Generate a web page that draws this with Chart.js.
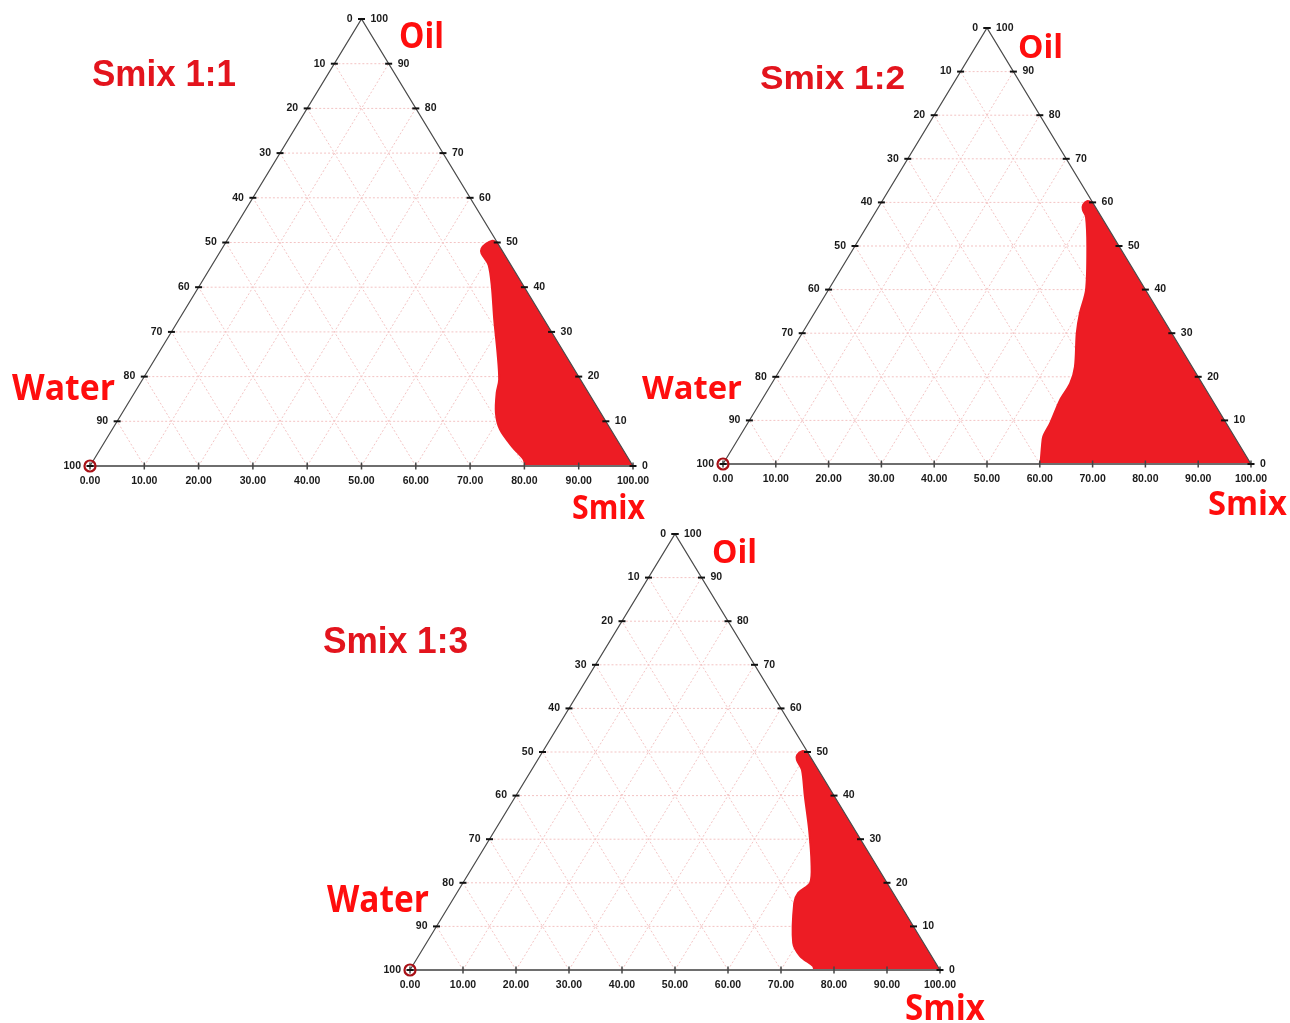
<!DOCTYPE html>
<html lang="en">
  <head>
    <meta charset="UTF-8" />
    <title>Pseudo-ternary phase diagrams</title>
    <style>
      html,
      body {
        margin: 0;
        padding: 0;
        background: #ffffff;
      }
      .stage {
        position: relative;
        width: 1290px;
        height: 1023px;
        overflow: hidden;
      }
      .stage canvas {
        position: absolute;
        left: 0;
        top: 0;
      }
    </style>
  </head>
  <body>
    <div class="stage">
      <canvas id="smix11" width="1290" height="1023"></canvas>
      <canvas id="smix12" width="1290" height="1023"></canvas>
      <canvas id="smix13" width="1290" height="1023"></canvas>
    </div>

    <script src="https://cdn.jsdelivr.net/npm/chart.js"></script>
    <script>
      // axis values (percent)
      const gridSteps = [10, 20, 30, 40, 50, 60, 70, 80, 90];
      const tickValues = [0, 10, 20, 30, 40, 50, 60, 70, 80, 90, 100];
      const smixTickLabels = ["0.00", "10.00", "20.00", "30.00", "40.00", "50.00",
        "60.00", "70.00", "80.00", "90.00", "100.00"];
      const waterTickLabels = ["0", "10", "20", "30", "40", "50", "60", "70", "80", "90", "100"]; // left side, apex -> base
      const oilTickLabels = ["100", "90", "80", "70", "60", "50", "40", "30", "20", "10", "0"]; // right side, apex -> base

      const panelTitles = ["Smix 1:1", "Smix 1:2", "Smix 1:3"];
      const componentNames = ["Oil", "Water", "Smix"];

      // microemulsion region boundary (oil %, smix %; water = rest)
      const oil11 = [50, 50.4, 49.6, 48.6, 47.6, 45, 40.2, 32.7, 25.3, 19.3, 16.4, 11.9, 8.2, 4.4, 1.5, 0, 0];
      const smix11 = [50, 48.9, 48.0, 47.8, 48.3, 50.9, 53.9, 58.1, 62.4, 65.7, 66.7, 68.8, 71.4, 75.5, 79.1, 80.4, 100];

      const oil12 = [60, 60.3, 59.4, 58.3, 56.7, 49.8, 39.9, 34.6, 30.0, 22.3, 18.5, 14.7, 9.3, 6.3, 4.0, 0.5, 0, 0];
      const smix12 = [40, 38.8, 38.5, 39.0, 40.4, 44.1, 48.8, 50.3, 52.0, 55.5, 56.5, 56.5, 57.3, 57.5, 58.4, 59.9, 60, 100];

      const oil13 = [50, 50.2, 49.3, 48.2, 45.9, 39.8, 32.2, 24.5, 20.0, 17.7, 15.4, 6.2, 3.2, 0.9, 0, 0];
      const smix13 = [50, 48.9, 48.4, 48.9, 51.0, 54.6, 59.2, 63.5, 65.5, 64.4, 64.8, 69.2, 72.0, 75.6, 76.4, 100];

      // page layout of each diagram (triangle box in px) and its text spots
      const panels = [
        {
          id: "smix11", oil: oil11, smix: smix11,
          area: { left: 90, right: 633, top: 19, bottom: 466 },
          title: { x: 92, y: 86, w: 144, cap: 27 },
          names: [
            { x: 399, y: 48, w: 45, cap: 26 },
            { x: 12, y: 400, w: 103, cap: 26 },
            { x: 572, y: 519, w: 73, cap: 24 },
          ],
        },
        {
          id: "smix12", oil: oil12, smix: smix12,
          area: { left: 723, right: 1251, top: 28, bottom: 464 },
          title: { x: 760, y: 89, w: 145, cap: 24 },
          names: [
            { x: 1018, y: 58, w: 45, cap: 23 },
            { x: 642, y: 399, w: 100, cap: 23 },
            { x: 1208, y: 515, w: 79, cap: 24 },
          ],
        },
        {
          id: "smix13", oil: oil13, smix: smix13,
          area: { left: 410, right: 940, top: 534, bottom: 970 },
          title: { x: 323, y: 653, w: 145, cap: 26 },
          names: [
            { x: 712, y: 563, w: 45, cap: 23 },
            { x: 327, y: 912, w: 102, cap: 27 },
            { x: 905, y: 1020, w: 80, cap: 26 },
          ],
        },
      ];

      // ternary -> cartesian (x along the base, y = oil height)
      const pt = (smix, oil) => ({ x: smix + oil / 2, y: oil });

      function line(points, color, width, dash, order) {
        return {
          data: points,
          showLine: true,
          borderColor: color,
          borderWidth: width,
          borderDash: dash || [],
          pointRadius: 0,
          fill: false,
          clip: false,
          order: order,
        };
      }

      function drawText(ctx, text, box, family, capRatio, color) {
        const size = box.cap / capRatio;
        ctx.font = "bold " + size + "px " + family;
        const w = ctx.measureText(text).width;
        ctx.save();
        ctx.translate(box.x, box.y);
        ctx.scale(box.w / w, 1);
        ctx.fillStyle = color;
        ctx.textAlign = "left";
        ctx.textBaseline = "alphabetic";
        ctx.fillText(text, 0, 0);
        ctx.restore();
      }

      panels.forEach((p, idx) => {
        const a = p.area;
        const ux = 100 / (a.right - a.left); // data units per px
        const uy = 100 / (a.bottom - a.top);
        const datasets = [];

        // frame
        datasets.push(line([pt(0, 0), pt(0, 100), pt(100, 0)], "#4a4a4a", 1.2, null, 1));
        datasets.push(line([pt(0, 0), pt(100, 0)], "#6e6e6e", 2, null, 1));

        // ticks
        tickValues.forEach((v) => {
          const l = pt(0, v);
          datasets.push(line([{ x: l.x - 3.5 * ux, y: v }, { x: l.x + 3.5 * ux, y: v }], "#111", 2, null, 0));
          const r = pt(100 - v, v);
          datasets.push(line([{ x: r.x - 3.5 * ux, y: v }, { x: r.x + 3.5 * ux, y: v }], "#111", 2, null, 0));
          datasets.push(line([{ x: v, y: -3.5 * uy }, { x: v, y: 3.5 * uy }], "#444", 1.5, null, 0));
        });

        // water-100 corner marker
        datasets.push({
          data: [pt(0, 0)],
          pointRadius: 5.5,
          pointBorderWidth: 2.2,
          pointBorderColor: "#a81016",
          pointBackgroundColor: "rgba(0,0,0,0)",
          clip: false,
          order: 0,
        });

        // region
        datasets.push({
          data: p.oil.map((o, i) => pt(p.smix[i], o)),
          showLine: true,
          borderColor: "#ed1c24",
          borderWidth: 2,
          backgroundColor: "#ed1c24",
          fill: "shape",
          pointRadius: 0,
          tension: 0.3,
          clip: false,
          order: 2,
        });

        // dotted grid
        gridSteps.forEach((g) => {
          datasets.push(line([pt(0, g), pt(100 - g, g)], "#f3c4c4", 1, [2, 2], 3));
          datasets.push(line([pt(g, 0), pt(g, 100 - g)], "#f3c4c4", 1, [2, 2], 3));
          datasets.push(line([pt(100 - g, 0), pt(0, 100 - g)], "#f3c4c4", 1, [2, 2], 3));
        });

        const labels = {
          id: "ternaryLabels",
          afterDraw(chart) {
            const { ctx } = chart;
            const { x, y } = chart.scales;
            const px = (smix, oil) => x.getPixelForValue(smix + oil / 2);
            const py = (oil) => y.getPixelForValue(oil);
            ctx.save();
            ctx.fillStyle = "#1a1a1a";
            ctx.font = 'bold 10.5px "Liberation Sans", Arial, sans-serif';
            ctx.textBaseline = "middle";
            ctx.textAlign = "right";
            tickValues.forEach((v, i) => ctx.fillText(waterTickLabels[i], px(0, 100 - v) - 9, py(100 - v)));
            ctx.textAlign = "left";
            tickValues.forEach((v, i) => ctx.fillText(oilTickLabels[i], px(v, 100 - v) + 9, py(100 - v)));
            ctx.textAlign = "center";
            tickValues.forEach((v, i) => ctx.fillText(smixTickLabels[i], px(v, 0), py(0) + 15));

            drawText(ctx, panelTitles[idx], p.title, '"Liberation Sans", Arial, sans-serif', 0.716, "#e3141d");
            componentNames.forEach((n, i) =>
              drawText(ctx, n, p.names[i], '"Open Sans", sans-serif', 0.714, "#ff0d0d")
            );
            ctx.restore();
          },
        };

        new Chart(document.getElementById(p.id), {
          type: "scatter",
          data: { datasets: datasets },
          options: {
            responsive: false,
            animation: false,
            events: [],
            layout: {
              padding: { left: a.left, right: 1290 - a.right, top: a.top, bottom: 1023 - a.bottom },
            },
            scales: {
              x: { type: "linear", min: 0, max: 100, display: false },
              y: { type: "linear", min: 0, max: 100, display: false },
            },
            plugins: { legend: { display: false }, tooltip: { enabled: false } },
          },
          plugins: [labels],
        });
      });
    </script>
  </body>
</html>
